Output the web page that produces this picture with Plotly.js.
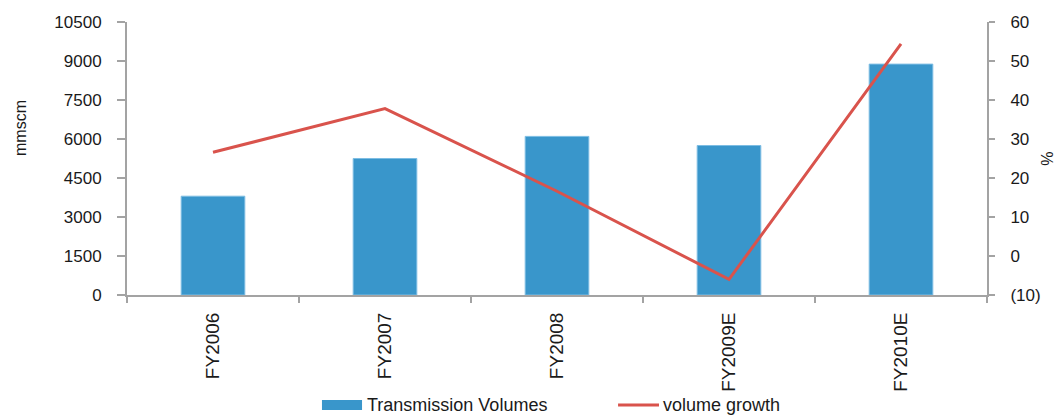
<!DOCTYPE html>
<html>
<head>
<meta charset="utf-8">
<script src="https://cdn.plot.ly/plotly-3.0.1.min.js"></script>
<style>
  html, body { margin: 0; padding: 0; background: #ffffff; }
  #chart { width: 1056px; height: 415px; }
</style>
</head>
<body>
<div id="chart"></div>
<script>
// Fiscal years on the category axis
const years = ["FY2006", "FY2007", "FY2008", "FY2009E", "FY2010E"];

// Transmission volumes, mmscm (left axis)
const transmissionVolumes = [3800, 5250, 6100, 5750, 8880];

// Year-on-year volume growth, % (right axis)
const volumeGrowth = [26.6, 37.8, 16.6, -6.0, 54.4];

// Right-axis tick labels, negatives shown in brackets
const growthTickVals = [-10, 0, 10, 20, 30, 40, 50, 60];
const growthTickText = ["(10)", "0", "10", "20", "30", "40", "50", "60"];

const barName = "Transmission Volumes";
const lineName = "volume growth";
const leftUnit = "mmscm";
const rightUnit = "%";

const barColor = "#3996cb";
const lineColor = "#d9534c";
const axisColor = "#a3a3a3";
const textColor = "#1a1a1a";
const fontFamily = "'Liberation Sans', Arial, sans-serif";

const traces = [
  {
    type: "bar",
    name: barName,
    x: years,
    y: transmissionVolumes,
    width: 0.37,
    marker: { color: barColor, line: { color: "#7dbde3", width: 1 } },
    yaxis: "y",
    showlegend: false,
    hoverinfo: "x+y"
  },
  {
    type: "scatter",
    mode: "lines",
    name: lineName,
    x: years,
    y: volumeGrowth,
    line: { color: lineColor, width: 3 },
    yaxis: "y2",
    showlegend: false,
    hoverinfo: "x+y"
  }
];

// Plot area spans x 127..987, y 22..295 px; legend sits below in paper coords
const layout = {
  width: 1056,
  height: 415,
  margin: { l: 127, r: 69, t: 22, b: 120 },
  paper_bgcolor: "#ffffff",
  plot_bgcolor: "#ffffff",
  font: { family: fontFamily, color: textColor, size: 16 },
  showlegend: false,
  xaxis: {
    type: "category",
    tickangle: -90,
    tickfont: { size: 19, color: textColor },
    ticks: "outside",
    tickson: "boundaries",
    ticklen: 6,
    tickwidth: 2,
    tickcolor: axisColor,
    showline: true,
    linecolor: axisColor,
    linewidth: 2,
    showgrid: false,
    zeroline: false,
    ticklabelstandoff: 8
  },
  yaxis: {
    range: [0, 10500],
    dtick: 1500,
    tick0: 0,
    tickformat: "d",
    ticks: "outside",
    ticklen: 8,
    tickwidth: 2,
    tickcolor: axisColor,
    showline: true,
    linecolor: axisColor,
    linewidth: 2,
    showgrid: false,
    zeroline: false,
    tickfont: { size: 17, color: textColor },
    ticklabelstandoff: 12
  },
  yaxis2: {
    overlaying: "y",
    side: "right",
    range: [-10, 60],
    tickmode: "array",
    tickvals: growthTickVals,
    ticktext: growthTickText,
    ticks: "outside",
    ticklen: 6,
    tickwidth: 2,
    tickcolor: axisColor,
    showline: true,
    linecolor: axisColor,
    linewidth: 2,
    showgrid: false,
    zeroline: false,
    tickfont: { size: 17, color: textColor },
    ticklabelstandoff: 12,
    title: { text: rightUnit, font: { size: 16, color: textColor }, standoff: 4 }
  },
  // Legend drawn beneath the axis
  shapes: [
    {
      type: "rect", xref: "paper", yref: "paper",
      x0: 0.2267, x1: 0.2733, y0: -0.4212, y1: -0.3846,
      fillcolor: barColor, line: { width: 0 }
    },
    {
      type: "line", xref: "paper", yref: "paper",
      x0: 0.571, x1: 0.6186, y0: -0.4029, y1: -0.4029,
      line: { color: lineColor, width: 3 }
    }
  ],
  annotations: [
    {
      // left unit label, set a little above the plot's middle
      xref: "paper", yref: "paper", x: -0.1244, y: 0.6117,
      xanchor: "center", yanchor: "middle", showarrow: false,
      textangle: -90, text: leftUnit, font: { size: 16, color: textColor }
    },
    {
      xref: "paper", yref: "paper", x: 0.277, y: -0.4029,
      xanchor: "left", yanchor: "middle", showarrow: false,
      text: barName, font: { size: 18, color: textColor }
    },
    {
      xref: "paper", yref: "paper", x: 0.621, y: -0.4029,
      xanchor: "left", yanchor: "middle", showarrow: false,
      text: lineName, font: { size: 18, color: textColor }
    }
  ]
};

Plotly.newPlot("chart", traces, layout, { displayModeBar: false, staticPlot: true });
</script>
</body>
</html>
